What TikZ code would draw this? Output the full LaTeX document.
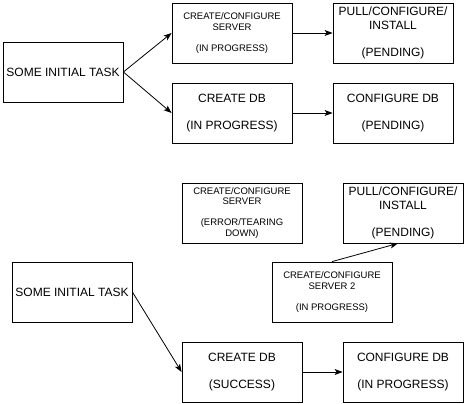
\documentclass[tikz,border=0pt]{standalone}
\usepackage{fontspec}
\setmainfont{Liberation Sans}
\usetikzlibrary{arrows.meta}
\begin{document}
\begin{tikzpicture}[x=1pt,y=-1pt,
  box/.style={draw=black,line width=0.8pt,minimum width=120pt,minimum height=60pt,inner sep=0pt,align=center},
  big/.style={box,font=\fontsize{12}{13.5}\selectfont},
  small/.style={box,font=\fontsize{9.5}{10.5}\selectfont},
  conn/.style={draw=black,line width=0.8pt,-{Stealth[length=8pt,width=6pt,inset=2pt]}}]
\fill[white] (0,0) rectangle (464,404);
\useasboundingbox (0,0) rectangle (464,404);
% top
\node[big] (init) at (63,72) {SOME INITIAL TASK};
\node[small] (srv) at (232,33) {CREATE/CONFIGURE\\SERVER\\[10.5pt](IN PROGRESS)};
\node[big] (db) at (232,113) {CREATE DB\\[13.5pt](IN PROGRESS)};
\node[big] (pull) at (393,33) {PULL/CONFIGURE/\\INSTALL\\[13.5pt](PENDING)};
\node[big] (cdb) at (393,113) {CONFIGURE DB\\[13.5pt](PENDING)};
\draw[conn] (init.east) -- (srv.west);
\draw[conn] (init.east) -- (db.west);
\draw[conn] (srv.east) -- (pull.west);
\draw[conn] (db.east) -- (cdb.west);
% bottom
\node[small] (srverr) at (242,213) {CREATE/CONFIGURE\\SERVER\\[10.5pt](ERROR/TEARING\\DOWN)};
\node[big] (pull2) at (403,213) {PULL/CONFIGURE/\\INSTALL\\[13.5pt](PENDING)};
\node[small] (srv2) at (332,292) {CREATE/CONFIGURE\\SERVER 2\\[10.5pt](IN PROGRESS)};
\node[big] (init2) at (72,292) {SOME INITIAL TASK};
\node[big] (db2) at (242,372) {CREATE DB\\[13.5pt](SUCCESS)};
\node[big] (cdb2) at (403,372) {CONFIGURE DB\\[13.5pt](IN PROGRESS)};
\draw[conn] (init2.east) -- (db2.west);
\draw[conn] (db2.east) -- (cdb2.west);
\draw[conn] (srv2.north) -- ([xshift=-5pt]pull2.south);
\end{tikzpicture}
\end{document}
